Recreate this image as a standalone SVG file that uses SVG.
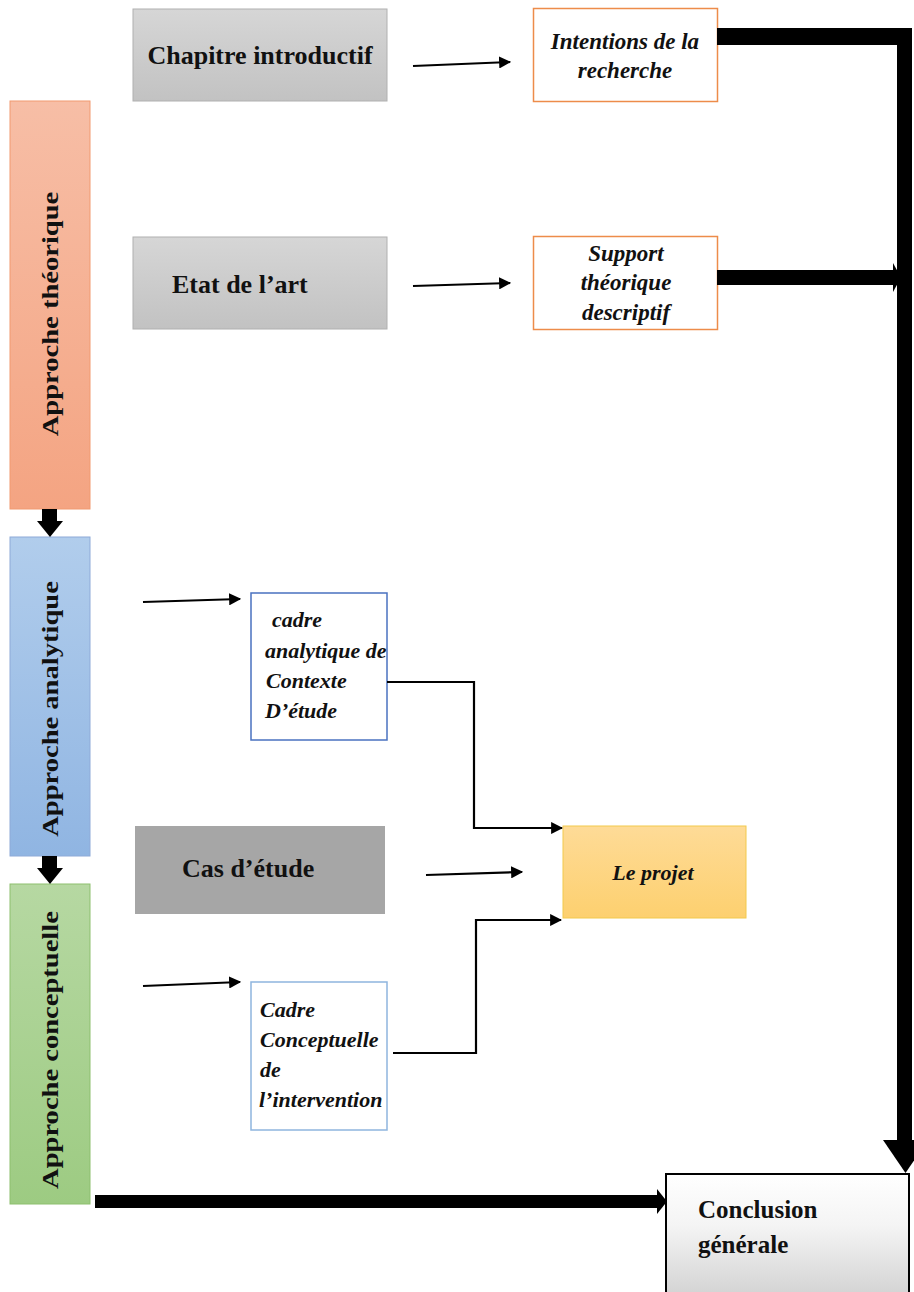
<svg xmlns="http://www.w3.org/2000/svg" width="914" height="1292" viewBox="0 0 914 1292">
<style>
  .t { font-family: "Liberation Serif", "Times New Roman", serif; font-weight: bold; fill: #111; }
  .h { font-size: 26px; }
  .i { font-size: 22px; font-style: italic; }
  .i2 { font-size: 23px; font-style: italic; }
  .v { font-size: 28px; }
  .thin { fill: none; stroke: #000; stroke-width: 2.2; marker-end: url(#ah); }
  .thick { fill: #000; }
</style>
<defs>
  <marker id="ah" viewBox="0 0 10 10" refX="9" refY="5" markerWidth="5.5" markerHeight="5.5" orient="auto" markerUnits="strokeWidth">
    <path d="M0,0 L10,5 L0,10 z" fill="#000"/>
  </marker>
  <linearGradient id="gGray" x1="0" y1="0" x2="0" y2="1">
    <stop offset="0" stop-color="#d6d6d6"/><stop offset="1" stop-color="#c2c2c2"/>
  </linearGradient>
  <linearGradient id="gOrange" x1="0" y1="0" x2="0" y2="1">
    <stop offset="0" stop-color="#f7bea6"/><stop offset="1" stop-color="#f4a482"/>
  </linearGradient>
  <linearGradient id="gBlue" x1="0" y1="0" x2="0" y2="1">
    <stop offset="0" stop-color="#b1cdec"/><stop offset="1" stop-color="#90b5e2"/>
  </linearGradient>
  <linearGradient id="gGreen" x1="0" y1="0" x2="0" y2="1">
    <stop offset="0" stop-color="#b6d8a2"/><stop offset="1" stop-color="#9dcb82"/>
  </linearGradient>
  <linearGradient id="gYellow" x1="0" y1="0" x2="0" y2="1">
    <stop offset="0" stop-color="#fedb97"/><stop offset="1" stop-color="#fdd06f"/>
  </linearGradient>
  <linearGradient id="gConc" x1="0" y1="0" x2="0" y2="1">
    <stop offset="0" stop-color="#ffffff"/><stop offset="0.4" stop-color="#f4f4f4"/><stop offset="1" stop-color="#cfcfcf"/>
  </linearGradient>
</defs>
<rect width="914" height="1292" fill="#fff"/>

<g id="approche-theorique">
  <rect x="10" y="101" width="80" height="408" fill="url(#gOrange)" stroke="#f19a70" stroke-width="1"/>
  <text class="t v" text-anchor="middle" transform="translate(58,314) rotate(-90) scale(1.02,0.82)">Approche  théorique</text>
</g>
<g id="approche-analytique">
  <rect x="10" y="537" width="80" height="319" fill="url(#gBlue)" stroke="#8eaad8" stroke-width="1"/>
  <text class="t v" text-anchor="middle" transform="translate(58,709) rotate(-90) scale(1.02,0.82)">Approche  analytique</text>
</g>
<g id="approche-conceptuelle">
  <rect x="10" y="884" width="80" height="320" fill="url(#gGreen)" stroke="#8dbf6e" stroke-width="1"/>
  <text class="t v" text-anchor="middle" transform="translate(58,1050) rotate(-90) scale(1.02,0.82)">Approche  conceptuelle</text>
</g>

<g id="chapitre-introductif">
  <rect x="133" y="9" width="254" height="92" fill="url(#gGray)" stroke="#b0b0b0" stroke-width="1"/>
  <text class="t h" x="260" y="64" text-anchor="middle">Chapitre introductif</text>
</g>
<g id="etat-de-l-art">
  <rect x="133" y="237" width="254" height="92" fill="url(#gGray)" stroke="#b0b0b0" stroke-width="1"/>
  <text class="t h" x="172" y="293">Etat de l’art</text>
</g>
<g id="intentions">
  <rect x="533.5" y="8.5" width="184" height="93" fill="#fff" stroke="#ed8c4a" stroke-width="1.5"/>
  <text class="t i2" x="625" y="49" text-anchor="middle">Intentions de la</text>
  <text class="t i2" x="625" y="78" text-anchor="middle">recherche</text>
</g>
<g id="support">
  <rect x="533.5" y="236.5" width="184" height="93" fill="#fff" stroke="#ed8c4a" stroke-width="1.5"/>
  <text class="t i2" x="626" y="261" text-anchor="middle">Support</text>
  <text class="t i2" x="626" y="290" text-anchor="middle">théorique</text>
  <text class="t i2" x="626" y="320" text-anchor="middle">descriptif</text>
</g>
<g id="cadre-analytique">
  <rect x="251" y="593" width="136" height="147" fill="#fff" stroke="#4a72c0" stroke-width="1.5"/>
  <text class="t i" x="272" y="627">cadre</text>
  <text class="t i" x="265" y="658">analytique de</text>
  <text class="t i" x="266" y="688">Contexte</text>
  <text class="t i" x="265" y="718">D’étude</text>
</g>
<g id="cas-d-etude">
  <rect x="135" y="826" width="250" height="88" fill="#a6a6a6"/>
  <text class="t h" x="182" y="877">Cas d’étude</text>
</g>
<g id="le-projet">
  <rect x="563" y="826" width="183" height="92" fill="url(#gYellow)" stroke="#f2c94c" stroke-width="1"/>
  <text class="t i" x="653" y="880" text-anchor="middle">Le projet</text>
</g>
<g id="cadre-conceptuelle">
  <rect x="251" y="982" width="136" height="148" fill="#fff" stroke="#8fb5de" stroke-width="1.5"/>
  <text class="t i" x="260" y="1017">Cadre</text>
  <text class="t i" x="260" y="1047">Conceptuelle</text>
  <text class="t i" x="260" y="1077">de</text>
  <text class="t i" x="259" y="1107">l’intervention</text>
</g>
<g id="conclusion">
  <rect x="666" y="1174" width="243" height="130" fill="url(#gConc)" stroke="#000" stroke-width="2"/>
  <text class="t" font-size="25" x="698" y="1218">Conclusion</text>
  <text class="t" font-size="25" x="698" y="1253">générale</text>
</g>

<g id="connectors">
  <path class="thin" d="M413,66 L510,62"/>
  <path class="thin" d="M413,286 L510,283"/>
  <path class="thin" d="M143,602 L240,599"/>
  <path class="thin" d="M426,875 L522,872"/>
  <path class="thin" d="M143,986 L240,982"/>
  <path class="thin" d="M387,682 H474 V828 H562"/>
  <path class="thin" d="M393,1053 H476 V920 H561"/>
  <rect class="thick" x="717" y="28" width="195" height="17"/>
  <rect class="thick" x="897" y="28" width="15" height="1113"/>
  <polygon class="thick" points="883,1140 928,1140 905.5,1173"/>
  <rect class="thick" x="717" y="270" width="180" height="15"/>
  <polygon class="thick" points="893,263 901,277.5 893,292"/>
  <rect class="thick" x="95" y="1195" width="564" height="13"/>
  <polygon class="thick" points="657,1189 667,1201.5 657,1214"/>
  <polygon class="thick" points="42,509 57,509 57,521 63,521 50,537 37,521 42,521"/>
  <polygon class="thick" points="42,856 57,856 57,868 63,868 50,884 37,868 42,868"/>
</g>
</svg>
